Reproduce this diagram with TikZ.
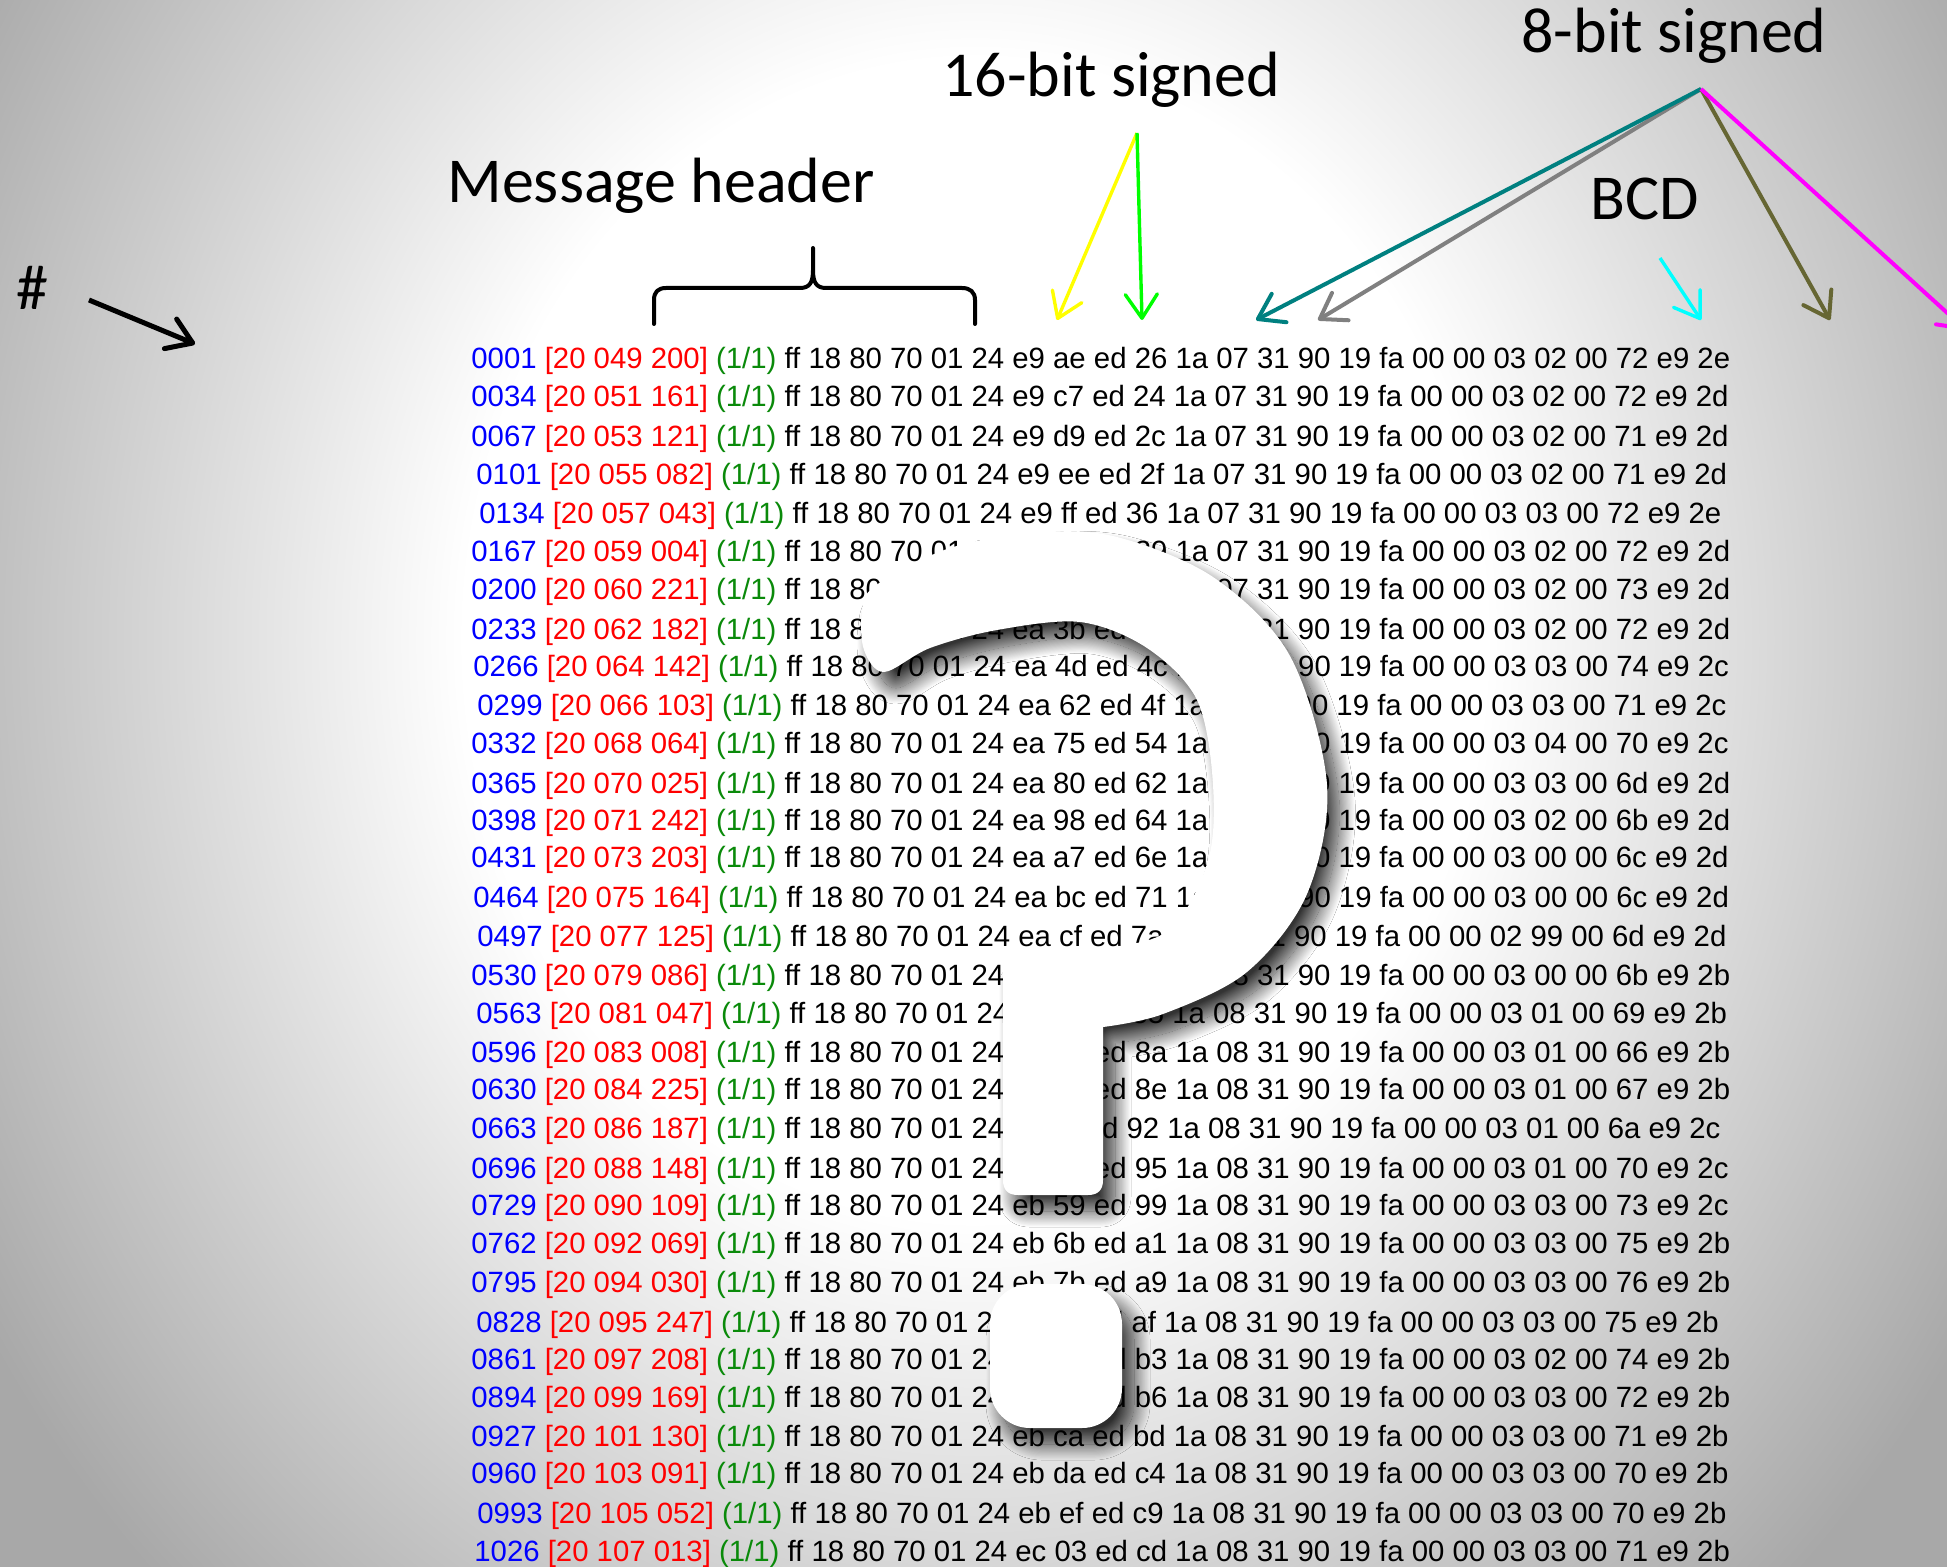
\documentclass[tikz,border=0pt]{standalone}
\usepackage{fontspec}
\newfontfamily\hexfont{Liberation Sans}
\newfontfamily\labelfont{Carlito}
\usetikzlibrary{arrows.meta, shadows.blur}
\definecolor{seqblue}{HTML}{0000FF}
\definecolor{stampred}{HTML}{FF0000}
\definecolor{fraggreen}{HTML}{0A8A0A}
\definecolor{tealeight}{HTML}{008080}
\definecolor{greyeight}{HTML}{808080}
\definecolor{oliveeight}{HTML}{666633}
\definecolor{magentaeight}{HTML}{FF00FF}
\definecolor{cyanbcd}{HTML}{00FFFF}
\definecolor{yellowsixteen}{HTML}{FFFF00}
\definecolor{greensixteen}{HTML}{00FF00}
\definecolor{edgegray}{gray}{0.66}
\pgfdeclareradialshading{slideglow}{\pgfpoint{0bp}{0bp}}{color(0bp)=(white); color(11bp)=(white); color(25bp)=(edgegray); color(50bp)=(edgegray)}
\tikzset{
  hexrow/.style={anchor=base west, inner sep=0pt, font=\hexfont\fontsize{14.67}{17}\selectfont},
  lbl/.style={anchor=base west, inner sep=0pt, font=\labelfont\fontsize{32}{36}\selectfont},
  ptr/.style={line width=2pt, -{Straight Barb[length=12pt,width=16pt,round]}},
  qmark/.style={fill=white, blur shadow={shadow xshift=6pt, shadow yshift=-8pt,
                shadow blur radius=8pt, shadow blur steps=30, shadow opacity=80}},
  bracket/.style={line width=2pt, line join=round, line cap=round},
}

\begin{document}
\begin{tikzpicture}[x=0.5pt, y=-0.5pt]
  \clip (0,0) rectangle (1947,1567);
  \fill[edgegray] (0,0) rectangle (1947,1567);
  \shade[shading=slideglow] (975,640) ellipse [x radius=580pt, y radius=660pt];

  % log lines
  \foreach \seq/\stamp/\bytes/\xx/\yy in {
    0001/049 200/e9 ae ed 26 1a 07 31 90 19 fa 00 00 03 02 00 72 e9 2e/471/369,
    0034/051 161/e9 c7 ed 24 1a 07 31 90 19 fa 00 00 03 02 00 72 e9 2d/471/407,
    0067/053 121/e9 d9 ed 2c 1a 07 31 90 19 fa 00 00 03 02 00 71 e9 2d/471/446,
    0101/055 082/e9 ee ed 2f 1a 07 31 90 19 fa 00 00 03 02 00 71 e9 2d/476/484,
    0134/057 043/e9 ff ed 36 1a 07 31 90 19 fa 00 00 03 03 00 72 e9 2e/479/523,
    0167/059 004/ea 10 ed 39 1a 07 31 90 19 fa 00 00 03 02 00 72 e9 2d/471/561,
    0200/060 221/ea 24 ed 3e 1a 07 31 90 19 fa 00 00 03 02 00 73 e9 2d/471/599,
    0233/062 182/ea 3b ed 45 1a 07 31 90 19 fa 00 00 03 02 00 72 e9 2d/471/639,
    0266/064 142/ea 4d ed 4c 1a 07 31 90 19 fa 00 00 03 03 00 74 e9 2c/473/676,
    0299/066 103/ea 62 ed 4f 1a 07 31 90 19 fa 00 00 03 03 00 71 e9 2c/477/715,
    0332/068 064/ea 75 ed 54 1a 07 31 90 19 fa 00 00 03 04 00 70 e9 2c/471/753,
    0365/070 025/ea 80 ed 62 1a 07 31 90 19 fa 00 00 03 03 00 6d e9 2d/471/793,
    0398/071 242/ea 98 ed 64 1a 07 31 90 19 fa 00 00 03 02 00 6b e9 2d/471/830,
    0431/073 203/ea a7 ed 6e 1a 07 31 90 19 fa 00 00 03 00 00 6c e9 2d/471/867,
    0464/075 164/ea bc ed 71 1a 07 31 90 19 fa 00 00 03 00 00 6c e9 2d/473/907,
    0497/077 125/ea cf ed 7a 1a 07 31 90 19 fa 00 00 02 99 00 6d e9 2d/477/946,
    0530/079 086/ea e2 ed 80 1a 08 31 90 19 fa 00 00 03 00 00 6b e9 2b/471/985,
    0563/081 047/ea f5 ed 85 1a 08 31 90 19 fa 00 00 03 01 00 69 e9 2b/476/1023,
    0596/083 008/eb 08 ed 8a 1a 08 31 90 19 fa 00 00 03 01 00 66 e9 2b/471/1062,
    0630/084 225/eb 1b ed 8e 1a 08 31 90 19 fa 00 00 03 01 00 67 e9 2b/471/1099,
    0663/086 187/eb 2f ed 92 1a 08 31 90 19 fa 00 00 03 01 00 6a e9 2c/471/1138,
    0696/088 148/eb 44 ed 95 1a 08 31 90 19 fa 00 00 03 01 00 70 e9 2c/471/1178,
    0729/090 109/eb 59 ed 99 1a 08 31 90 19 fa 00 00 03 03 00 73 e9 2c/471/1215,
    0762/092 069/eb 6b ed a1 1a 08 31 90 19 fa 00 00 03 03 00 75 e9 2b/471/1253,
    0795/094 030/eb 7b ed a9 1a 08 31 90 19 fa 00 00 03 03 00 76 e9 2b/471/1292,
    0828/095 247/eb 8f ed af 1a 08 31 90 19 fa 00 00 03 03 00 75 e9 2b/476/1332,
    0861/097 208/eb a2 ed b3 1a 08 31 90 19 fa 00 00 03 02 00 74 e9 2b/471/1369,
    0894/099 169/eb b6 ed b6 1a 08 31 90 19 fa 00 00 03 03 00 72 e9 2b/471/1407,
    0927/101 130/eb ca ed bd 1a 08 31 90 19 fa 00 00 03 03 00 71 e9 2b/471/1446,
    0960/103 091/eb da ed c4 1a 08 31 90 19 fa 00 00 03 03 00 70 e9 2b/471/1483,
    0993/105 052/eb ef ed c9 1a 08 31 90 19 fa 00 00 03 03 00 70 e9 2b/477/1523,
    1026/107 013/ec 03 ed cd 1a 08 31 90 19 fa 00 00 03 03 00 71 e9 2b/474/1561}
    \node[hexrow] (r\seq) at (\xx,\yy) {\textcolor{seqblue}{\seq} \textcolor{stampred}{[20 \stamp]}
      \textcolor{fraggreen}{(1/1)} ff 18 80 70 01 24 \bytes};

  % question mark over the dump
  \path[qmark] (1003,1180) -- (1003,975)
    -- plot[smooth, tension=0.55] coordinates {(1003,967) (1063,953) (1163,934) (1207,864)
       (1213,785) (1197,700) (1147,648) (1080,622) (997,630) (930,648) (884,672) (864,650)
       (862,612) (875,586) (947,549) (1030,533) (1113,536) (1213,577) (1290,656) (1327,785)
       (1307,894) (1247,972) (1163,1014) (1103,1027)}
    -- (1103,1180) .. controls (1103,1190) and (1098,1195) .. (1088,1195)
    -- (1018,1195) .. controls (1008,1195) and (1003,1190) .. cycle;
  \path[qmark, rounded corners=20pt] (990,1284) rectangle (1122,1428);

  % labels
  \node[lbl] (hash) at (16,310) {\#};
  \node[lbl] (hdr) at (447,203) {Message header};
  \node[lbl] (s16lbl) at (942,97) {16-bit signed};
  \node[lbl] (s8lbl) at (1521,53) {8-bit signed};
  \node[lbl] (bcd) at (1590,220) {BCD};

  \draw[bracket] (654,324) -- (654,300) .. controls (654,292) and (658,288) .. (666,288)
    -- (800,288) .. controls (810,288) and (813,282) .. (813,270) -- (813,248)
    -- (813,270) .. controls (813,282) and (816,288) .. (826,288)
    -- (962,288) .. controls (970,288) and (975,292) .. (975,300) -- (975,324);

  \coordinate (hashtail) at (89,300);
  \coordinate (hashhead) at (195,344);
  \coordinate (s16) at (1137,133);
  \coordinate (s8) at (1701,89);
  \coordinate (ytip) at (1057,320);
  \coordinate (gtip) at (1142,320);
  \coordinate (tltip) at (1256,320);
  \coordinate (grtip) at (1318,320);
  \coordinate (oltip) at (1830,320);
  \coordinate (mgtip) at (1966,330);
  \coordinate (cytail) at (1660,258);
  \coordinate (cytip) at (1701,320);

  \draw[ptr, line width=2.5pt] (hashtail) -- (hashhead);
  \draw[ptr, line width=1.7pt, yellowsixteen] (s16) -- (ytip);
  \draw[ptr, line width=1.7pt, greensixteen] (s16) -- (gtip);
  \draw[ptr, greyeight] (s8) -- (grtip);
  \draw[ptr, tealeight] (s8) -- (tltip);
  \draw[ptr, oliveeight] (s8) -- (oltip);
  \draw[ptr, magentaeight] (s8) -- (mgtip);
  \draw[ptr, line width=1.7pt, cyanbcd] (cytail) -- (cytip);
\end{tikzpicture}
\end{document}
